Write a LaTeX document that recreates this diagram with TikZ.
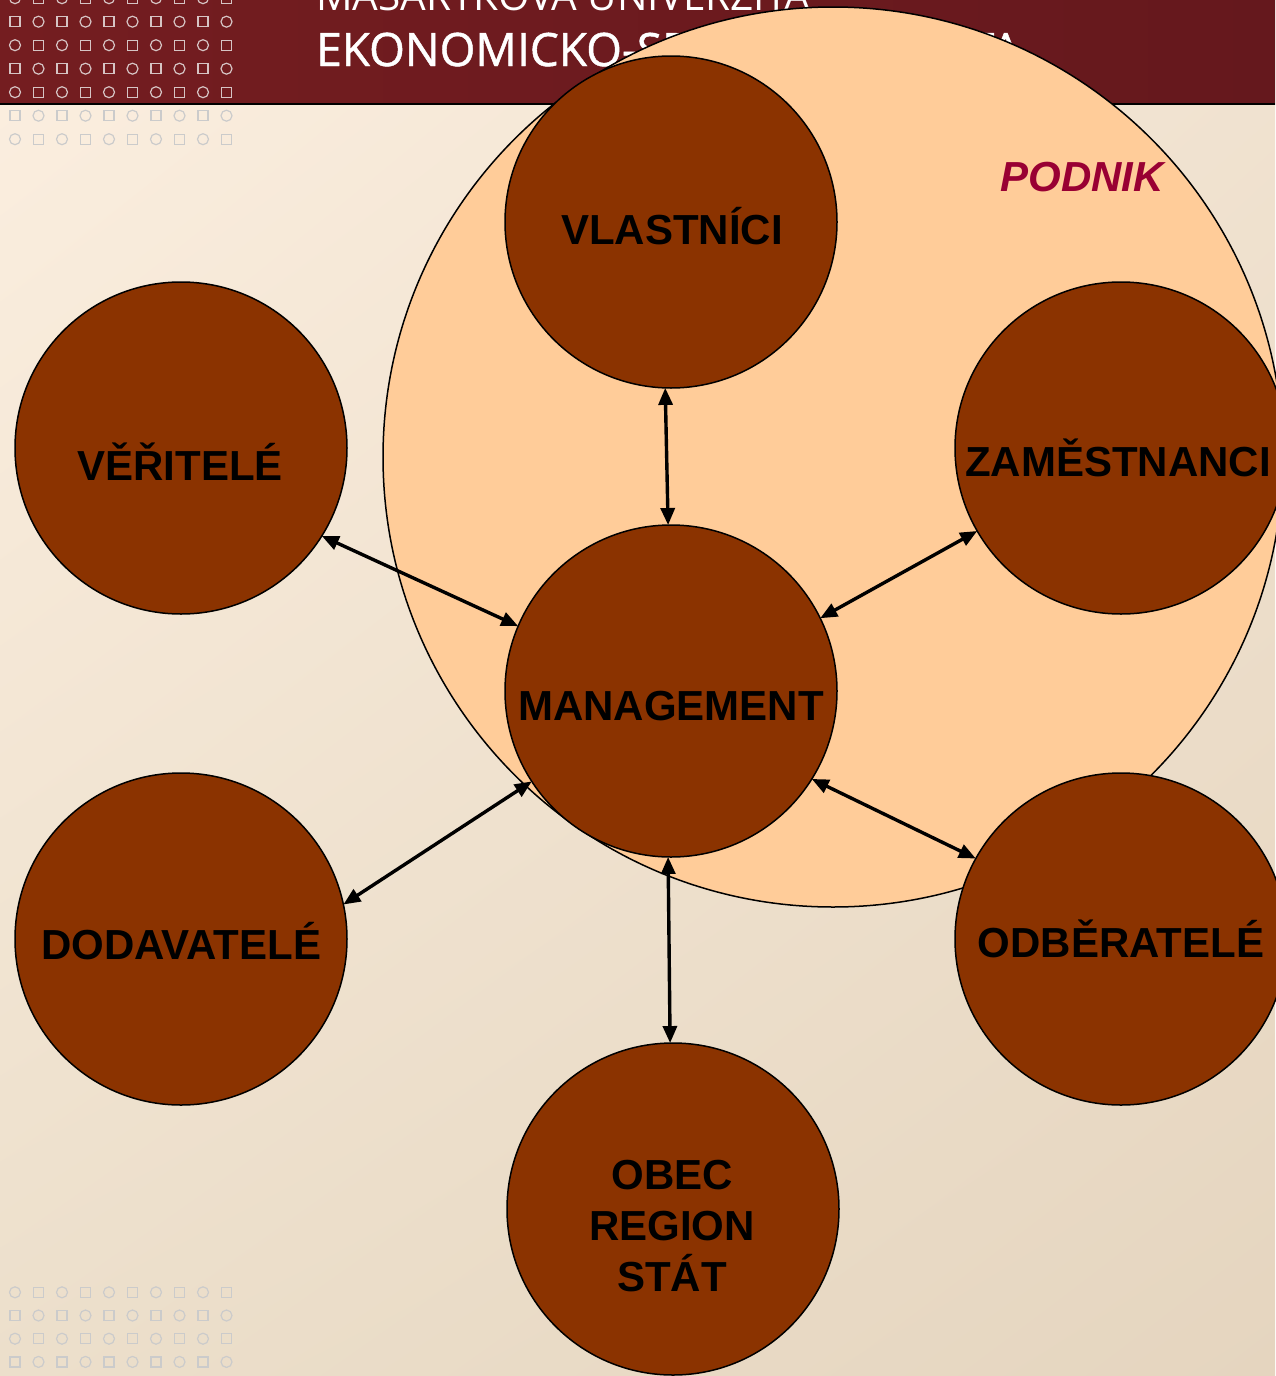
\documentclass[tikz,border=0pt]{standalone}
\usepackage{fontspec}
\setmainfont{Liberation Sans}
\newfontfamily\hdrfont{Open Sans}
\newfontfamily\hdrfontheavy{Open Sans}[FakeBold=1.0]
\usetikzlibrary{arrows.meta,shadings}

\definecolor{bgUL}{HTML}{FCEFE0}
\definecolor{bgUR}{HTML}{F1E3D1}
\definecolor{bgLL}{HTML}{ECDFCB}
\definecolor{bgLR}{HTML}{E5D5BF}
\definecolor{hdrL}{HTML}{741D20}
\definecolor{hdrR}{HTML}{65181D}
\definecolor{podnikfill}{HTML}{FFCC99}
\definecolor{bubblefill}{HTML}{8B3300}
\definecolor{podniktext}{HTML}{990033}
\definecolor{markhdr}{HTML}{D6C4C4}
\definecolor{markbg}{HTML}{CBCBCB}

\tikzset{
  bubble/.style={circle, draw=black, line width=1.5pt, fill=bubblefill,
    minimum size=332pt, inner sep=0pt, outer sep=0pt},
  firm/.style={circle, draw=black, line width=1.5pt, fill=podnikfill,
    minimum size=900pt, inner sep=0pt, outer sep=0pt},
  lbl/.style={anchor=base, font=\bfseries\fontsize{42}{51}\selectfont,
    align=center, text=black},
  link/.style={line width=3.4pt, {Triangle[length=17pt,width=14pt]}-{Triangle[length=17pt,width=14pt]}},
  glyph/.style={line width=1.2pt},
}

\begin{document}
\begin{tikzpicture}[x=1pt,y=-1pt]
  \useasboundingbox (0,0) rectangle (1275,1376);

  % page background and header band
  \shade[upper left=bgUL, upper right=bgUR, lower left=bgLL, lower right=bgLR]
    (0,0) rectangle (1275,1376);
  \shade[left color=hdrL, right color=hdrR] (0,0) rectangle (1275,104);
  \draw[line width=1.4pt] (0,104) -- (1275,104);

  % decorative grid of circles and squares
  \foreach \i in {0,...,6}{
    \foreach \j in {0,...,9}{
      \pgfmathsetmacro\px{15+23.5*\j}
      \pgfmathsetmacro\py{-1.8+23.5*\i}
      \pgfmathtruncatemacro\parity{mod(\i+\j,2)}
      \ifnum\i<5 \def\mc{markhdr}\else\def\mc{markbg}\fi
      \ifnum\parity=0
        \draw[glyph,draw=\mc] (\px,\py) circle[radius=5.5pt];
      \else
        \draw[glyph,draw=\mc] ({\px-5},{\py-5}) rectangle ({\px+5},{\py+5});
      \fi
    }
  }
  \foreach \k in {0,...,3}{
    \foreach \j in {0,...,9}{
      \pgfmathsetmacro\px{15+23.5*\j}
      \pgfmathsetmacro\py{1292.3+23.2*\k}
      \pgfmathtruncatemacro\parity{mod(\k+\j,2)}
      \ifnum\parity=0
        \draw[glyph,draw=markbg] (\px,\py) circle[radius=5.5pt];
      \else
        \draw[glyph,draw=markbg] ({\px-5},{\py-5}) rectangle ({\px+5},{\py+5});
      \fi
    }
  }

  % header titles
  \node[anchor=base west, inner sep=0pt, text=white,
        font=\hdrfont\fontsize{40.5}{40.5}\selectfont] (uni) at (316,10) {MASARYKOVA UNIVERZITA};
  \node[anchor=base west, inner sep=0pt, text=white,
        font=\hdrfontheavy\fontsize{46}{46}\selectfont] (fac) at (316,66) {EKONOMICKO-SPRÁVNÍ FAKULTA};

  % the firm
  \node[firm] (P) at (833,457) {};
  \node[anchor=base, inner sep=0pt, text=podniktext,
        font=\bfseries\itshape\fontsize{42}{42}\selectfont] (podnik) at (1082,191) {PODNIK};

  % stakeholders
  \node[bubble] (V)  at (671,222)  {};
  \node[bubble] (VE) at (181,448)  {};
  \node[bubble] (Z)  at (1121,448) {};
  \node[bubble] (M)  at (671,691)  {};
  \node[bubble] (D)  at (181,939)  {};
  \node[bubble] (O)  at (1121,939) {};
  \node[bubble] (S)  at (673,1209) {};

  \node[lbl] (Vt)  at (672,244)  {VLASTNÍCI};
  \node[lbl] (VEt) at (180,480)  {VĚŘITELÉ};
  \node[lbl] (Zt)  at (1118,476) {ZAMĚSTNANCI};
  \node[lbl] (Mt)  at (671,720)  {MANAGEMENT};
  \node[lbl] (Dt)  at (181,959)  {DODAVATELÉ};
  \node[lbl] (Ot)  at (1121,957) {ODBĚRATELÉ};
  \node[lbl, anchor=north] (St) at (672,1157) {OBEC\\REGION\\STÁT};

  % relations with management
  \draw[link] (V.268)  -- (M.91);
  \draw[link] (VE.-32) -- (M.157);
  \draw[link] (Z.210)  -- (M.26);
  \draw[link] (D.12)   -- (M.213);
  \draw[link] (M.-32)  -- (O.151);
  \draw[link] (M.269)  -- (S.91);
\end{tikzpicture}
\end{document}
